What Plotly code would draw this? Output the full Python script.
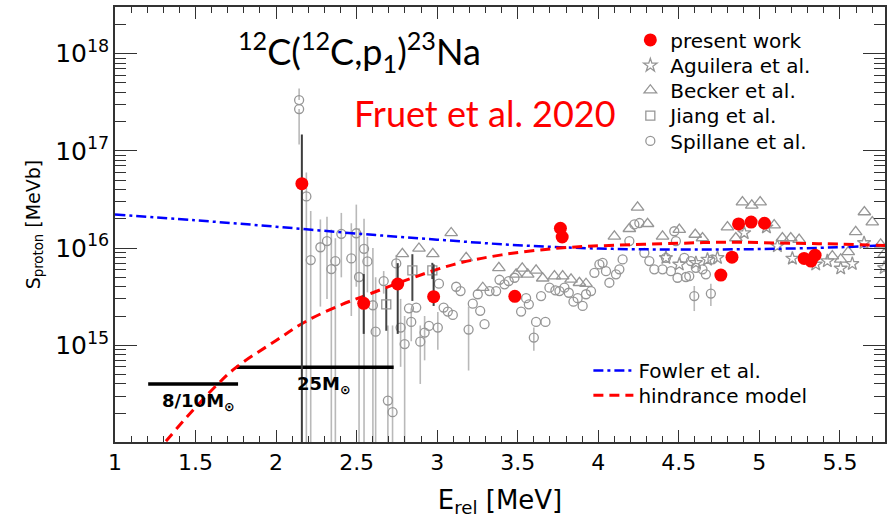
import plotly.graph_objects as go

# ---------------- data ----------------
present_E = [2.160, 2.544, 2.755, 2.978, 3.482, 3.765, 3.776, 4.761, 4.830, 4.871, 4.949, 5.032, 5.278, 5.321, 5.346]
present_S = [4.6e16, 2.7e15, 4.27e15, 3.16e15, 3.19e15, 1.60e16, 1.30e16, 5.27e15, 8.07e15, 1.77e16, 1.85e16, 1.80e16, 7.82e15, 7.35e15, 8.45e15]
present_hi = [1.47e17, 5.4e15, 7.0e15, 6.8e15, None, None, None, None, None, None, None, None, None, None, None]
present_lo = [1.0e13, 1.31e15, 1.31e15, 2.54e15, None, None, None, None, None, None, None, None, None, None, None]

spil_E = [2.143, 2.143, 2.188, 2.215, 2.275, 2.316, 2.343, 2.368, 2.405, 2.467,
          2.498, 2.515, 2.546, 2.567, 2.601, 2.618, 2.668, 2.694, 2.723, 2.746,
          2.773, 2.798, 2.825, 2.839, 2.870, 2.895, 2.922, 2.949, 3.004, 3.011,
          3.040, 3.066, 3.097, 3.118, 3.145, 3.195, 3.221, 3.252, 3.267, 3.294,
          3.325, 3.366, 3.387, 3.418, 3.444, 3.480, 3.521, 3.552, 3.569, 3.600,
          3.614, 3.672, 3.645, 3.697, 3.734, 3.759, 3.790, 3.817, 3.846, 3.872,
          3.903, 3.924, 3.955, 3.976, 4.007, 4.027, 4.048, 4.069, 4.110, 4.131,
          4.151, 4.193, 4.224, 4.255, 4.286, 4.317, 4.348, 4.399, 4.451, 4.492,
          4.544, 4.420, 4.472, 4.482, 4.534, 4.575, 4.606, 4.647, 4.668, 4.709,
          4.596, 4.699, 4.565]
spil_S = [3.33e17, 2.69e17, 3.40e16, 7.52e15, 1.02e16, 1.18e16, 6.08e15, 7.35e15, 1.40e16, 7.82e15,
          1.42e16, 5.04e15, 9.82e15, 7.29e15, 2.58e15, 1.38e15, 4.58e15, 2.70e14, 2.05e14, 6.95e15,
          1.52e15, 1.03e15, 2.40e15, 1.74e15, 2.44e15, 1.09e15, 1.35e15, 1.58e15, 1.52e15, 4.30e15,
          2.44e15, 2.22e15, 2.05e15, 4.00e15, 3.61e15, 1.45e15, 2.68e15, 3.35e15, 2.26e15, 1.65e15,
          3.61e15, 3.61e15, 4.72e15, 4.24e15, 4.58e15, 4.95e15, 2.22e15, 3.05e15, 2.64e15, 1.20e15,
          1.74e15, 1.74e15, 3.21e15, 3.91e15, 3.68e15, 3.61e15, 3.91e15, 3.47e15, 2.81e15, 3.05e15,
          2.54e15, 3.35e15, 3.61e15, 5.57e15, 6.79e15, 7.05e15, 5.79e15, 4.40e15, 5.37e15, 6.04e15,
          7.64e15, 1.18e16, 1.75e16, 1.81e16, 8.93e15, 7.35e15, 6.04e15, 6.04e15, 5.79e15, 4.95e15,
          5.04e15, 7.94e15, 1.49e16, 1.18e16, 7.94e15, 7.35e15, 6.27e15, 6.04e15, 5.37e15, 7.64e15,
          3.21e15, 3.40e15, 5.15e15]
_n = None
spil_hi = [4.37e17, _n, 6.0e16, 2.4e16, 1.97e16, 2.1e16, 1.55e16, 1.26e16, 2.3e16, 1.8e16,
           2.8e16, 1.6e16, 2.0e16, 1.3e16, 1.0e16, 5.0e15, 5.8e15, 1.6e15, 1.6e15, 8.5e15,
           3.0e15, 2.0e15, _n, 2.4e15, _n, 1.6e15, 2.0e15, _n, 2.2e15, _n,
           _n, _n, _n, _n, _n, 2.5e15, _n, _n, _n, _n,
           _n, _n, _n, _n, _n, _n, _n, _n, _n, 1.52e15,
           _n, _n, _n, _n, _n, _n, _n, _n, _n, _n,
           _n, _n, _n, _n, _n, _n, _n, _n, _n, _n,
           _n, _n, _n, _n, _n, _n, _n, _n, _n, _n,
           _n, _n, _n, _n, _n, _n, _n, _n, _n, _n,
           4.07e15, 4.3e15, _n]
spil_lo = [_n, 1.16e17, 1e13, 1e13, 2.5e15, 3.0e15, 1e13, 1e13, 5.0e15, 2.0e15,
           4.0e15, 1e13, 1e13, 3.5e15, 1e13, 1e13, 3.4e15, 1e13, 1e13, 4.5e15,
           6.0e14, 1e13, _n, 1.1e15, _n, 4.0e14, 7.0e14, _n, 9.0e14, _n,
           _n, _n, _n, _n, _n, 5.5e14, _n, _n, _n, _n,
           _n, _n, _n, _n, _n, _n, _n, _n, _n, 8.8e14,
           _n, _n, _n, _n, _n, _n, _n, _n, _n, _n,
           _n, _n, _n, _n, _n, _n, _n, _n, _n, _n,
           _n, _n, _n, _n, _n, _n, _n, _n, _n, _n,
           _n, _n, _n, _n, _n, _n, _n, _n, _n, _n,
           2.25e15, 2.54e15, _n]

becker_E = [2.784, 2.887, 2.973, 3.087, 3.180, 3.283, 3.383, 3.490, 3.528, 3.562,
            3.614, 3.655, 3.728, 3.779, 3.831, 3.883, 3.924, 4.100, 4.193, 4.244,
            4.306, 4.399, 4.503, 4.602, 4.647, 4.802, 4.854, 4.895, 4.953, 5.005,
            5.092, 5.143, 5.195, 5.247, 5.453, 5.505, 5.552, 5.598, 5.652, 5.701,
            5.753, 5.775]
becker_S = [8.73e15, 9.91e15, 8.73e15, 1.43e16, 7.94e15, 3.91e15, 6.27e15, 5.37e15, 6.18e15, 5.37e15,
            5.89e15, 4.89e15, 5.15e15, 5.15e15, 4.76e15, 4.40e15, 4.30e15, 1.32e16, 1.58e16, 2.62e16,
            1.78e16, 1.32e16, 1.55e16, 1.38e16, 1.27e16, 1.64e16, 1.27e16, 2.97e16, 2.75e16, 2.97e16,
            1.72e16, 1.27e16, 1.27e16, 1.22e16, 8.26e15, 7.64e15, 9.14e15, 1.47e16, 2.35e16, 1.85e16,
            1.09e16, 8.67e15]

aguil_E = [4.420, 4.503, 4.606, 4.678, 4.740, 4.906, 5.044, 5.112, 5.205, 5.350,
           5.422, 5.505, 5.577, 5.650, 5.775]
aguil_S = [7.94e15, 6.79e15, 7.05e15, 7.64e15, 7.94e15, 1.43e16, 1.64e16, 1.05e16, 7.82e15, 6.79e15,
           7.35e15, 6.18e15, 6.89e15, 1.13e16, 6.27e15]

jiang_E = [2.684, 2.846, 2.970]
jiang_S = [2.64e15, 5.89e15, 5.89e15]
jiang_hi = [3.91e15, 8.65e15, 7.05e15]
jiang_lo = [1.41e15, 2.86e15, 4.80e15]

fowler_E = [1.0, 1.5, 2.0, 2.5, 3.0, 3.5, 4.0, 4.5, 5.0, 5.5, 5.85]
fowler_S = [2.22e16, 1.93e16, 1.66e16, 1.41e16, 1.22e16, 1.07e16, 9.89e15, 9.66e15, 9.77e15, 1.02e16, 1.08e16]

hind_E = [1.25, 1.32, 1.45, 1.62, 1.75, 2.0, 2.19, 2.41, 2.6, 2.79, 3.1, 3.4, 3.76, 4.1, 4.5, 4.8, 5.2, 5.5, 5.85]
hind_S = [7.76e13, 1.05e14, 1.86e14, 3.72e14, 5.89e14, 1.12e15, 1.78e15, 2.63e15, 3.47e15, 4.57e15,
          6.76e15, 8.51e15, 1.00e16, 1.07e16, 1.12e16, 1.15e16, 1.12e16, 1.10e16, 1.05e16]

star_8_10_E = [1.206, 1.764]
star_8_10_S = [4.0e14, 4.0e14]
star_25_E = [1.754, 2.730]
star_25_S = [5.93e14, 5.93e14]

x_ticks = [1, 1.5, 2, 2.5, 3, 3.5, 4, 4.5, 5, 5.5]
x_ticktext = ["1", "1.5", "2", "2.5", "3", "3.5", "4", "4.5", "5", "5.5"]


def err_plus(S, hi):
    return [(h - s) if h is not None else 0 for s, h in zip(S, hi)]


def err_minus(S, lo):
    return [(s - l) if l is not None else 0 for s, l in zip(S, lo)]


GRAY = "rgb(150,150,150)"
fig = go.Figure()

fig.add_trace(go.Scatter(
    x=spil_E, y=spil_S, mode="markers", name="Spillane et al.", legend="legend6",
    marker=dict(symbol="circle-open", size=9, color=GRAY, line=dict(width=1.3, color=GRAY)),
    error_y=dict(type="data", symmetric=False, array=err_plus(spil_S, spil_hi),
                 arrayminus=err_minus(spil_S, spil_lo), color="rgb(185,185,185)", thickness=1.6, width=0),
))
fig.add_trace(go.Scatter(
    x=becker_E, y=becker_S, mode="markers", name="Becker et al.", legend="legend4",
    marker=dict(symbol="triangle-up-open", size=11, color=GRAY, line=dict(width=1.3, color=GRAY)),
))
fig.add_trace(go.Scatter(
    x=aguil_E, y=aguil_S, mode="markers", name="Aguilera et al.", legend="legend3",
    marker=dict(symbol="star-open", size=10, color=GRAY, line=dict(width=1.3, color=GRAY)),
))
fig.add_trace(go.Scatter(
    x=jiang_E, y=jiang_S, mode="markers", name="Jiang et al.", legend="legend5",
    marker=dict(symbol="square-open", size=9, color=GRAY, line=dict(width=1.3, color=GRAY)),
    error_y=dict(type="data", symmetric=False, array=err_plus(jiang_S, jiang_hi),
                 arrayminus=err_minus(jiang_S, jiang_lo), color="rgb(70,70,70)", thickness=2, width=0),
))
fig.add_trace(go.Scatter(
    x=star_8_10_E, y=star_8_10_S, mode="lines", showlegend=False, hoverinfo="skip",
    line=dict(color="black", width=3.5),
))
fig.add_trace(go.Scatter(
    x=star_25_E, y=star_25_S, mode="lines", showlegend=False, hoverinfo="skip",
    line=dict(color="black", width=3.5),
))
fig.add_trace(go.Scatter(
    x=fowler_E, y=fowler_S, mode="lines", name="Fowler et al.", legend="legend2",
    line=dict(color="rgb(0,0,255)", width=2.5, dash="10px,4px,3px,4px", shape="spline"),
))
fig.add_trace(go.Scatter(
    x=hind_E, y=hind_S, mode="lines", name="hindrance model", legend="legend7",
    line=dict(color="rgb(255,0,0)", width=3, dash="10px,6px", shape="spline"),
))
fig.add_trace(go.Scatter(
    x=present_E, y=present_S, mode="markers", name="present work", legend="legend",
    marker=dict(symbol="circle", size=13, color="rgb(255,0,0)"),
    error_y=dict(type="data", symmetric=False, array=err_plus(present_S, present_hi),
                 arrayminus=err_minus(present_S, present_lo), color="rgb(60,60,60)", thickness=2, width=0),
))

# plot frame in page pixels: left 115, top 5, width 771, height 437
PL, PT, PW, PH = 115, 5, 771, 437


def leg(left_px, row_center_px, itemwidth=30):
    return dict(x=(left_px - PL) / PW, y=1 - (row_center_px - 21.5 - PT) / PH,
                xanchor="left", yanchor="top", font=dict(size=20),
                bgcolor="rgba(0,0,0,0)", itemwidth=itemwidth)


AX = "rgb(50,50,50)"
fig.update_layout(
    width=892, height=518,
    margin=dict(l=PL, r=892 - PL - PW, t=PT, b=518 - PT - PH),
    plot_bgcolor="white", paper_bgcolor="white",
    font=dict(family="DejaVu Sans", color="black"),
    showlegend=True,
    legend=leg(631, 40),
    legend3=leg(631, 65.5),
    legend4=leg(631, 90.5),
    legend5=leg(631, 116),
    legend6=leg(631, 141.5),
    legend2=leg(589, 372, 40),
    legend7=leg(589, 397, 40),
    xaxis=dict(
        range=[1, 5.78], tickvals=x_ticks, ticktext=x_ticktext,
        ticks="inside", ticklen=12, tickwidth=1.3, tickcolor=AX,
        minor=dict(dtick=0.1, ticks="inside", ticklen=6, tickwidth=1.2, tickcolor=AX, showgrid=False),
        showline=True, linecolor=AX, linewidth=1.5, mirror="allticks",
        showgrid=False, zeroline=False, tickfont=dict(size=22),
        title=dict(text="E<sub>rel</sub> [MeV]", font=dict(size=26), standoff=20),
    ),
    yaxis=dict(
        type="log", range=[14.005, 18.48], dtick=1, exponentformat="power", showexponent="all",
        ticks="inside", ticklen=22, tickwidth=1.3, tickcolor=AX,
        minor=dict(dtick="D1", ticks="inside", ticklen=11, tickwidth=1.2, tickcolor=AX, showgrid=False),
        showline=True, linecolor=AX, linewidth=1.5, mirror="allticks",
        showgrid=False, zeroline=False, tickfont=dict(size=20),
        title=dict(text="S<sub>proton</sub> [MeVb]", font=dict(size=19), standoff=10),
    ),
    annotations=[
        dict(text="<sup>12</sup>C(<sup>12</sup>C,p<sub>1</sub>)<sup>23</sup>Na", xref="paper", yref="paper",
             x=0.318, y=0.897, xanchor="center", yanchor="middle", showarrow=False,
             font=dict(family="Lato", size=36, color="black")),
        dict(text="Fruet et al. 2020", xref="paper", yref="paper",
             x=0.48, y=0.757, xanchor="center", yanchor="middle", showarrow=False,
             font=dict(family="Lato", size=36, color="rgb(255,0,0)")),
        dict(text="<b>8/10M<sub>⊙</sub></b>", xref="paper", yref="paper",
             x=0.058, y=0.092, xanchor="left", yanchor="middle", showarrow=False,
             font=dict(size=18, color="black")),
        dict(text="<b>25M<sub>⊙</sub></b>", xref="paper", yref="paper",
             x=0.2335, y=0.13, xanchor="left", yanchor="middle", showarrow=False,
             font=dict(size=18, color="black")),
    ],
)

fig.write_html("out.html", config={"displayModeBar": False},
               post_script="document.body.style.margin='0px';")
